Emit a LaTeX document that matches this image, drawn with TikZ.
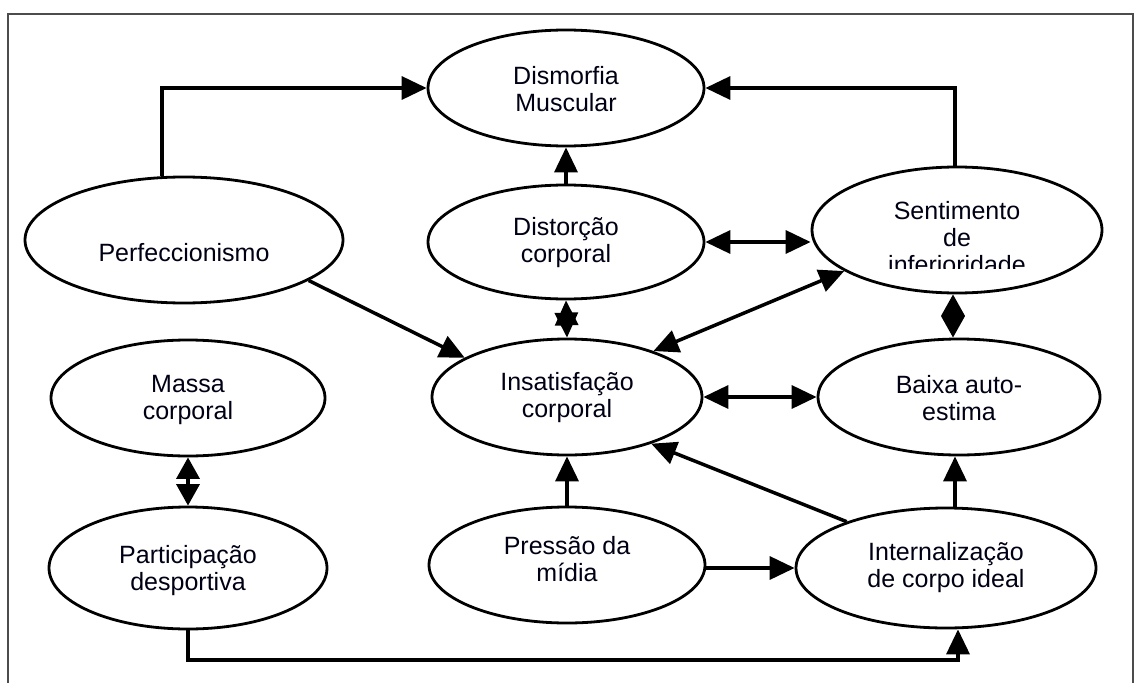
\documentclass[tikz,border=0pt]{standalone}
\usepackage{fontspec}
\setmainfont{Liberation Sans}
\usetikzlibrary{arrows.meta,shapes.geometric}
\begin{document}
\begin{tikzpicture}[x=1pt,y=-1pt,
  ell/.style={draw, ellipse, line width=2.8pt, inner sep=0pt},
  txt/.style={align=center, inner sep=0pt, font=\fontsize{25}{27}\selectfont, text=black!92!blue},
  arr/.style={line width=3.5pt, -{Triangle[length=25pt,width=23pt]}},
  arrr/.style={line width=3.5pt, {Triangle[length=25pt,width=23pt]}-{Triangle[length=25pt,width=23pt]}},
  arrs/.style={line width=3.5pt, {Triangle[length=21.5pt,width=23pt]}-{Triangle[length=21.5pt,width=23pt]}}]
\useasboundingbox (0,0) rectangle (1142,682);
\draw[line width=1.3pt, black!70] (8,14) rectangle (1133,720);

% ellipses
\node[ell, minimum width=276pt, minimum height=116pt] (dism) at (566,88) {};
\node[ell, minimum width=276pt, minimum height=114pt] (dist) at (566,242) {};
\node[ell, minimum width=290pt, minimum height=126pt] (sent) at (957,230) {};
\node[ell, minimum width=318pt, minimum height=126pt] (perf) at (184,240) {};
\node[ell, minimum width=274pt, minimum height=116pt] (mass) at (188,398) {};
\node[ell, minimum width=270pt, minimum height=116pt] (insa) at (567,397) {};
\node[ell, minimum width=282pt, minimum height=116pt] (baix) at (959,397) {};
\node[ell, minimum width=278pt, minimum height=122pt] (part) at (188,568) {};
\node[ell, minimum width=276pt, minimum height=116pt] (pres) at (567,565) {};
\node[ell, minimum width=300pt, minimum height=120pt] (inte) at (946,568) {};

% texts
\node[txt] (dismt) at (566,89) {Dismorfia\\Muscular};
\node[txt] (distt) at (566,243) {Distorção\\corporal};
\begin{scope}
  \clip (800,150) rectangle (1110,268);
  \node[txt] (sentt) at (957,238) {Sentimento\\de\\inferioridade};
\end{scope}
\node[txt] (perft) at (184,253) {Perfeccionismo};
\node[txt] (masst) at (188,400) {Massa\\corporal};
\node[txt] (insat) at (567,398) {Insatisfação\\corporal};
\node[txt] (baixt) at (959,398) {Baixa auto-\\estima};
\node[txt] (partt) at (188,571) {Participação\\desportiva};
\node[txt] (prest) at (567,559) {Pressão da\\mídia};
\node[txt] (intet) at (946,568) {Internalização\\de corpo ideal};

% connectors
\draw[arr] ([xshift=-22pt]perf.north) |- (dism.west);
\draw[arr] ([xshift=-2pt]sent.north) |- (dism.east);
\draw[arr] (dist) -- (dism);
\draw[arrr] (dist.south) -- (insa.north);
\draw[arrr] (dist.east) -- (dist.east -| sent.west);
\draw[arrs] ([xshift=-4pt]sent.south) -- ([xshift=-4pt]sent.south |- baix.north);
\draw[arrr] (insa.28) -- (sent.200);
\draw[arr] (perf.-18) -- (insa.159);
\draw[arr] (inte.155) -- (insa.-29);
\draw[arr] (pres) -- (insa);
\draw[arr] (pres.east |- inte.west) -- (inte.west);
\draw[arr] ([xshift=9pt]inte.north) -- ([xshift=9pt]inte.north |- baix.south);
\draw[arrs] (mass.south) -- (part.north);
\draw[arrr] (insa.east) -- (baix.west);
\coordinate (bl) at (188,660);
\draw[arr] (part.south) -- (bl) -| ([xshift=12pt]inte.south);
\end{tikzpicture}
\end{document}
